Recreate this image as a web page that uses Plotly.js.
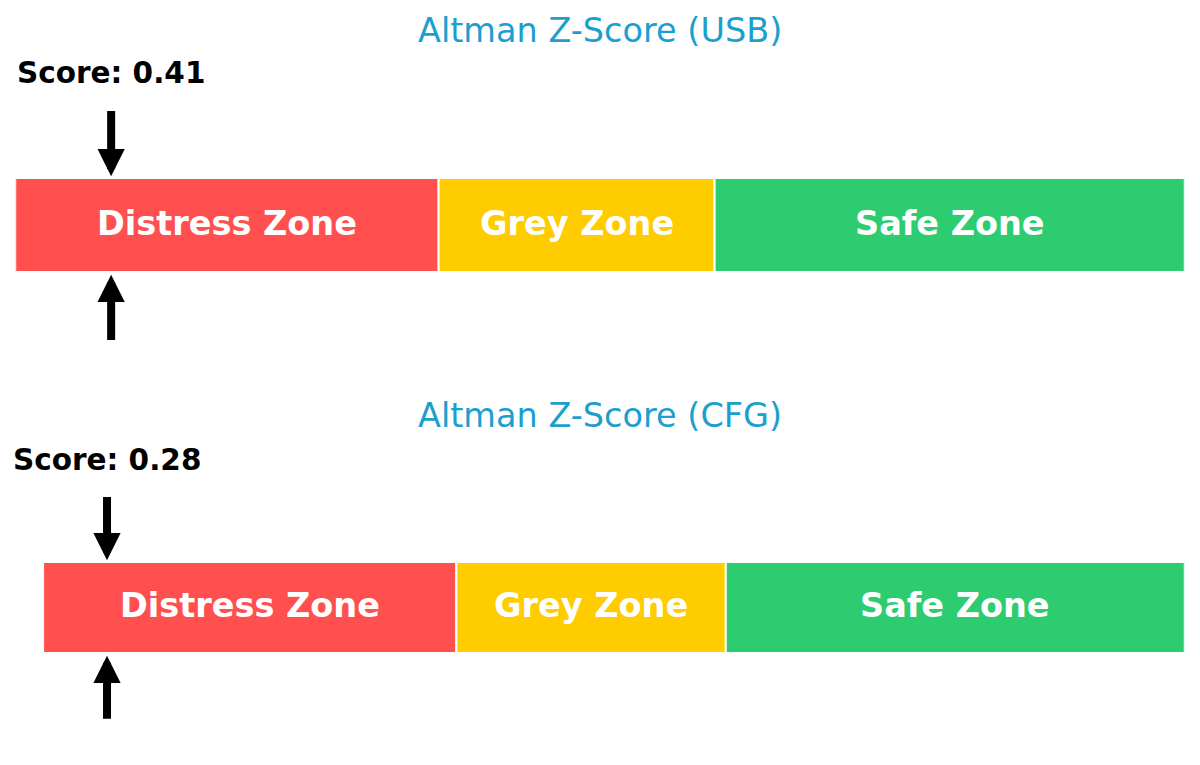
<!DOCTYPE html>
<html>
<head>
<meta charset="utf-8">
<script src="https://cdn.plot.ly/plotly-3.0.1.min.js"></script>
<style>
  html, body { margin: 0; padding: 0; background: #fff; }
  #chart { width: 1200px; height: 765px; }
</style>
</head>
<body>
<div id="chart"></div>
<script>
// Altman Z-Score zone bars, one per company
var companies = ['USB', 'CFG'];
var scores = [0.41, 0.28];

var zoneNames = ['Distress Zone', 'Grey Zone', 'Safe Zone'];
var zoneStarts = [0, 1.81, 2.99];
var zoneEnds = [1.81, 2.99, 5];
var zoneColors = ['#ff4f4f', '#ffcc00', '#2ecc71'];

// panel layout (paper fractions / axis units)
var panels = [
  { xdom: [0.0127, 0.9873], ydom: [0.5007, 1], yrange: [-1.67, 2.394], titleY: 0.9595 },
  { xdom: [0.0359, 0.9873], ydom: [0, 0.4993], yrange: [-1.731, 2.467], titleY: 0.4575 }
];

var data = [];
var annotations = [];
var layout = {
  width: 1200, height: 765,
  margin: { l: 0, r: 0, t: 0, b: 0 },
  paper_bgcolor: '#fff', plot_bgcolor: '#fff',
  showlegend: false,
  barmode: 'overlay',
  font: { family: 'DejaVu Sans', color: '#000' }
};

companies.forEach(function (c, i) {
  var xa = i === 0 ? 'x' : 'x2';
  var ya = i === 0 ? 'y' : 'y2';
  var p = panels[i];

  zoneNames.forEach(function (z, k) {
    data.push({
      type: 'bar', orientation: 'h',
      x: [zoneEnds[k] - zoneStarts[k]], base: [zoneStarts[k]], y: [0],
      width: 1,
      xaxis: xa, yaxis: ya,
      marker: { color: zoneColors[k], line: { color: '#fff', width: 2 } },
      hoverinfo: 'skip'
    });
    annotations.push({
      xref: xa, yref: ya, x: (zoneStarts[k] + zoneEnds[k]) / 2, y: 0.02,
      text: '<b>' + z + '</b>', showarrow: false,
      font: { family: 'DejaVu Sans', size: 33.5, color: '#fff' }
    });
  });

  // down arrow above, up arrow below the bar
  annotations.push({
    xref: xa, yref: ya, x: scores[i], y: 0.52,
    axref: xa, ayref: ya, ax: scores[i], ay: 1.23,
    text: '', showarrow: true, arrowhead: 2, arrowsize: 0.68, arrowwidth: 8,
    arrowcolor: '#000', standoff: 0
  });
  annotations.push({
    xref: xa, yref: ya, x: scores[i], y: -0.53,
    axref: xa, ayref: ya, ax: scores[i], ay: -1.24,
    text: '', showarrow: true, arrowhead: 2, arrowsize: 0.68, arrowwidth: 8,
    arrowcolor: '#000', standoff: 0
  });
  annotations.push({
    xref: xa, yref: ya, x: scores[i], y: 1.62,
    text: '<b>Score: ' + scores[i].toFixed(2) + '</b>', showarrow: false,
    yanchor: 'middle',
    font: { family: 'DejaVu Sans', size: 29.5, color: '#000' }
  });
  annotations.push({
    xref: 'paper', yref: 'paper', x: 0.5, y: p.titleY,
    xanchor: 'center', yanchor: 'middle',
    text: 'Altman Z-Score (' + c + ')', showarrow: false,
    font: { family: 'DejaVu Sans', size: 33.5, color: '#1c9fcf' }
  });

  var axOpts = { visible: false, fixedrange: true };
  layout[i === 0 ? 'xaxis' : 'xaxis2'] = Object.assign({ domain: p.xdom, range: [0, 5], anchor: ya }, axOpts);
  layout[i === 0 ? 'yaxis' : 'yaxis2'] = Object.assign({ domain: p.ydom, range: p.yrange, anchor: xa }, axOpts);
});

layout.annotations = annotations;

Plotly.newPlot('chart', data, layout, { displayModeBar: false, staticPlot: true });
</script>
</body>
</html>
